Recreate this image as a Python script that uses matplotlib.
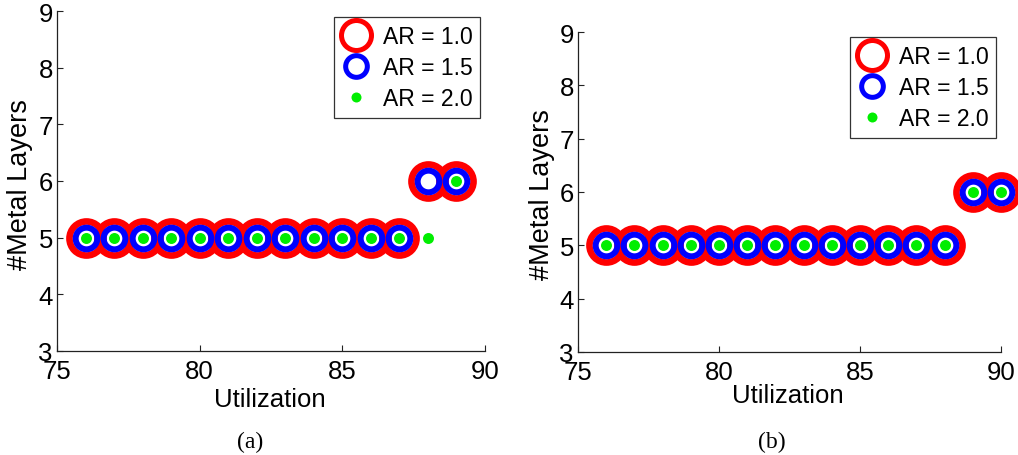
import matplotlib
matplotlib.use("Agg")
import matplotlib.pyplot as plt
from matplotlib.lines import Line2D

# Utilization sweep and resulting metal layer count per aspect ratio
util_a = [76, 77, 78, 79, 80, 81, 82, 83, 84, 85, 86, 87, 88, 89]
layers_a_ar10 = [5, 5, 5, 5, 5, 5, 5, 5, 5, 5, 5, 5, 6, 6]
layers_a_ar15 = [5, 5, 5, 5, 5, 5, 5, 5, 5, 5, 5, 5, 6, 6]
layers_a_ar20 = [5, 5, 5, 5, 5, 5, 5, 5, 5, 5, 5, 5, 5, 6]

util_b = [76, 77, 78, 79, 80, 81, 82, 83, 84, 85, 86, 87, 88, 89, 90]
layers_b_ar10 = [5, 5, 5, 5, 5, 5, 5, 5, 5, 5, 5, 5, 5, 6, 6]
layers_b_ar15 = [5, 5, 5, 5, 5, 5, 5, 5, 5, 5, 5, 5, 5, 6, 6]
layers_b_ar20 = [5, 5, 5, 5, 5, 5, 5, 5, 5, 5, 5, 5, 5, 6, 6]

series_labels = ["AR = 1.0", "AR = 1.5", "AR = 2.0"]
x_ticks = [75, 80, 85, 90]
y_ticks = [3, 4, 5, 6, 7, 8, 9]
captions = ["(a)", "(b)"]

W, H = 1018, 456
SANS = "Liberation Sans"
SERIF = "Liberation Serif"

RED = "#ff0000"
BLUE = "#0000ff"
GREEN = "#00ee00"

fig = plt.figure(figsize=(W / 100, H / 100), dpi=100)


def px_axes(left, top, right, bottom):
    return fig.add_axes([left / W, 1 - bottom / H, (right - left) / W, (bottom - top) / H])


def draw_panel(ax, x, y10, y15, y20):
    ax.plot(x, y10, linestyle="none", marker="o", markersize=24.5,
            markerfacecolor="none", markeredgecolor=RED, markeredgewidth=4.8,
            clip_on=False, zorder=3)
    ax.plot(x, y15, linestyle="none", marker="o", markersize=15.6,
            markerfacecolor="none", markeredgecolor=BLUE, markeredgewidth=4.3,
            clip_on=False, zorder=4)
    ax.plot(x, y20, linestyle="none", marker="o", markersize=7.9,
            markerfacecolor=GREEN, markeredgecolor=GREEN, markeredgewidth=0,
            clip_on=False, zorder=5)
    ax.set_xlim(75, 90)
    ax.set_ylim(3, 9)
    ax.set_xticks(x_ticks)
    ax.set_yticks(y_ticks)
    for s in ("top", "right"):
        ax.spines[s].set_visible(False)
    for s in ("left", "bottom"):
        ax.spines[s].set_color("#222222")
        ax.spines[s].set_linewidth(0.9)
    ax.tick_params(direction="in", length=4, width=0.8, colors="#222222",
                   labelcolor="black", labelsize=18.5)
    ax.tick_params(axis="x", pad=6)
    ax.tick_params(axis="y", pad=3)
    for lab in ax.get_xticklabels() + ax.get_yticklabels():
        lab.set_fontfamily(SANS)


def add_legend(ax, right_px, top_px):
    handles = [
        Line2D([], [], linestyle="none", marker="o", markersize=21.6,
               markerfacecolor="none", markeredgecolor=RED, markeredgewidth=3.6),
        Line2D([], [], linestyle="none", marker="o", markersize=15.6,
               markerfacecolor="none", markeredgecolor=BLUE, markeredgewidth=3.6),
        Line2D([], [], linestyle="none", marker="o", markersize=7.2,
               markerfacecolor=GREEN, markeredgecolor=GREEN, markeredgewidth=0),
    ]
    leg = ax.legend(handles, series_labels, loc="upper right",
                    bbox_to_anchor=(right_px / W, 1 - top_px / H),
                    bbox_transform=fig.transFigure, borderaxespad=0,
                    prop={"family": SANS, "size": 16.5}, frameon=True,
                    fancybox=False, handlelength=1.25, handletextpad=0.55,
                    labelspacing=0.36, borderpad=0.33)
    frame = leg.get_frame()
    frame.set_edgecolor("#333333")
    frame.set_linewidth(0.9)
    frame.set_facecolor("white")
    frame.set_alpha(1)
    leg.set_zorder(10)


ax_a = px_axes(57, 12, 485, 352)
draw_panel(ax_a, util_a, layers_a_ar10, layers_a_ar15, layers_a_ar20)
add_legend(ax_a, 480, 18)

ax_b = px_axes(578, 33, 1001, 353)
draw_panel(ax_b, util_b, layers_b_ar10, layers_b_ar15, layers_b_ar20)
add_legend(ax_b, 996, 38)

# Axis titles
fig.text(270 / W, 1 - 407 / H, "Utilization", ha="center", va="baseline",
         family=SANS, fontsize=18.5)
fig.text(788 / W, 1 - 403 / H, "Utilization", ha="center", va="baseline",
         family=SANS, fontsize=18.5)
fig.text(20 / W, 1 - 185 / H, "#Metal Layers", ha="center", va="center",
         rotation=90, family=SANS, fontsize=19.5)
fig.text(542 / W, 1 - 195 / H, "#Metal Layers", ha="center", va="center",
         rotation=90, family=SANS, fontsize=19.5)

# Sub-figure captions
fig.text(250 / W, 1 - 442 / H, captions[0], ha="center", va="center",
         family=SERIF, fontsize=17)
fig.text(772 / W, 1 - 442 / H, captions[1], ha="center", va="center",
         family=SERIF, fontsize=17)

fig.savefig("out.png", dpi=100)
